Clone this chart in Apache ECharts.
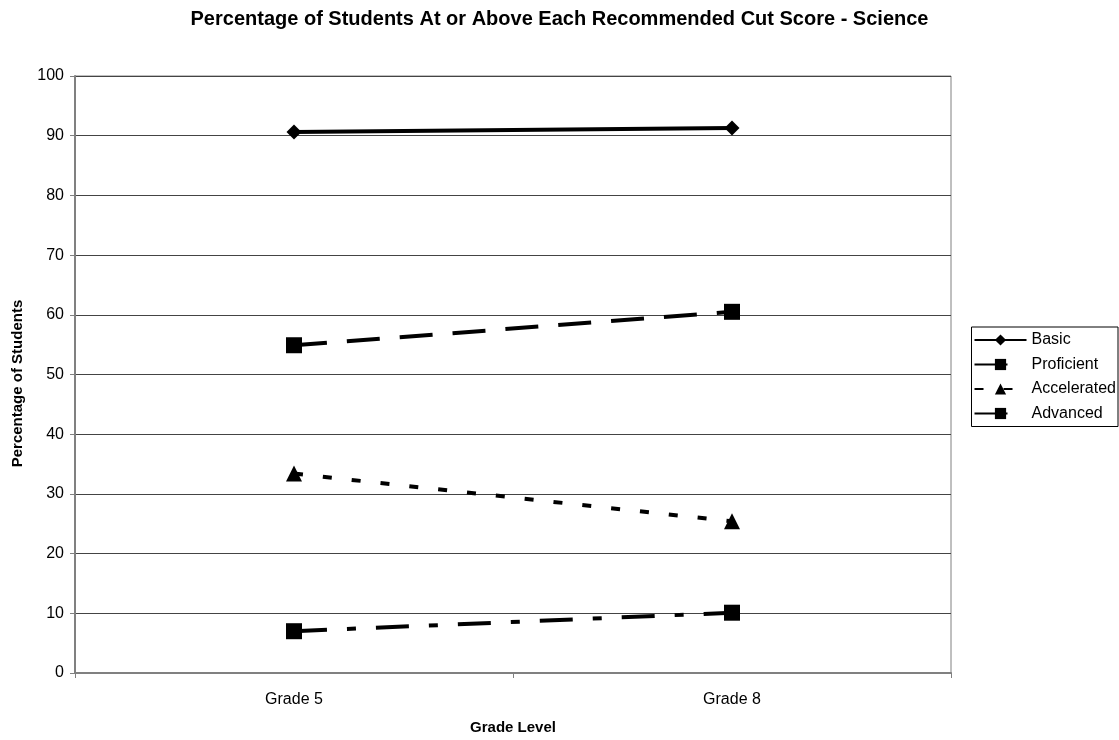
<!DOCTYPE html>
<html><head><meta charset="utf-8">
<script src="https://cdn.jsdelivr.net/npm/echarts@6/dist/echarts.min.js"></script>
<style>html,body{margin:0;padding:0;background:#fff}#c{width:1119px;height:740px}</style>
</head><body><div id="c"></div>
<script>
const categories = ['Grade 5', 'Grade 8'];
const basic = [90.6, 91.3];
const proficient = [54.9, 60.5];
const accelerated = [33.4, 25.4];
const advanced = [7.0, 10.1];
const yTicks = [0, 10, 20, 30, 40, 50, 60, 70, 80, 90, 100];

const font = 'Liberation Sans, Arial, sans-serif';
function mk(name, data, symbol, size, dash) {
  return {
    name, type: 'line', data, symbol, symbolSize: size,
    lineStyle: { color: '#000', width: 4, type: dash, cap: 'butt' },
    itemStyle: { color: '#000' },
    emphasis: { disabled: true }, animation: false
  };
}
const chart = echarts.init(document.getElementById('c'));
chart.setOption({
  animation: false,
  backgroundColor: '#fff',
  title: {
    text: 'Percentage of Students At or Above Each Recommended Cut Score - Science',
    left: 'center', top: 4,
    textStyle: { fontFamily: font, fontSize: 20, fontWeight: 'bold', color: '#000' }
  },
  grid: { left: 75, right: 168, top: 76, bottom: 65, show: true, borderColor: '#808080', borderWidth: 1 },
  legend: {
    orient: 'vertical', right: 1, top: 327,
    borderColor: '#000', borderWidth: 1, padding: [5, 2, 5, 2],
    itemWidth: 52, itemHeight: 14, itemGap: 8.5,
    textStyle: { fontFamily: font, fontSize: 16, color: '#000' },
    data: ['Basic', 'Proficient', 'Accelerated', 'Advanced']
  },
  xAxis: {
    type: 'category', data: categories, boundaryGap: true,
    name: 'Grade Level', nameLocation: 'middle', nameGap: 47,
    nameTextStyle: { fontFamily: font, fontSize: 15, fontWeight: 'bold', color: '#000' },
    axisLine: { lineStyle: { color: '#808080', width: 2 } },
    axisTick: { show: true, alignWithLabel: false, length: 5, lineStyle: { color: '#808080' } },
    axisLabel: { fontFamily: font, fontSize: 16, color: '#000', margin: 19 }
  },
  yAxis: {
    type: 'value', min: yTicks[0], max: yTicks[yTicks.length - 1], interval: 10,
    name: 'Percentage of Students', nameLocation: 'middle', nameGap: 50,
    nameTextStyle: { fontFamily: font, fontSize: 15, fontWeight: 'bold', color: '#000', padding: [0, 18, 0, 0] },
    axisLine: { show: true, lineStyle: { color: '#808080', width: 2 } },
    axisTick: { show: true, length: 5, lineStyle: { color: '#808080' } },
    axisLabel: { fontFamily: font, fontSize: 16, color: '#000', margin: 11 },
    splitLine: { lineStyle: { color: '#444', width: 1 } }
  },
  series: [
    mk('Basic', basic, 'diamond', 15, 'solid'),
    mk('Proficient', proficient, 'rect', 16, [33, 20]),
    mk('Accelerated', accelerated, 'triangle', 16, [9, 20]),
    mk('Advanced', advanced, 'rect', 16, [33, 20, 9, 20])
  ]
});
</script></body></html>
